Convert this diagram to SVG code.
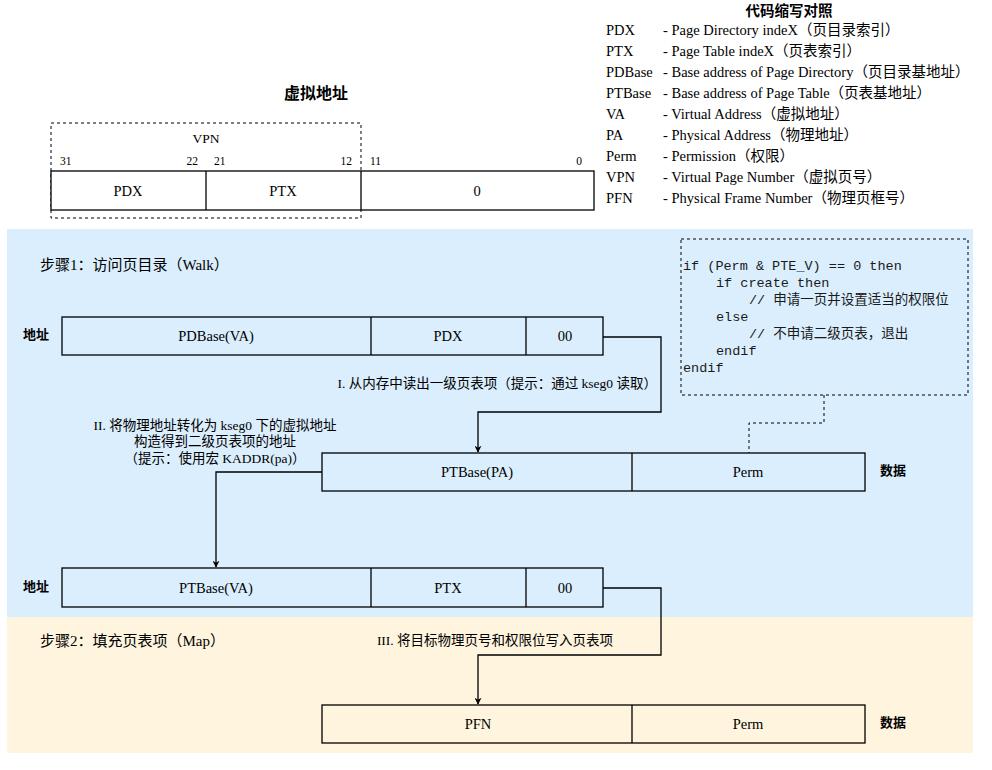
<svg xmlns="http://www.w3.org/2000/svg" width="992" height="770" viewBox="0 0 992 770">
<defs>
<marker id="arr" viewBox="0 0 10 10" refX="9" refY="5" markerWidth="7" markerHeight="7" orient="auto" markerUnits="userSpaceOnUse">
<path d="M0,0 L10,5 L0,10 L3,5 Z" fill="#000"/>
</marker>
<style>
.t{font-family:"Liberation Serif","Noto Sans CJK SC",serif;font-size:14.5px;fill:#000}
.s{font-family:"Liberation Serif","Noto Sans CJK SC",serif;font-size:13.5px;fill:#000}
.l{font-family:"Liberation Serif","Noto Sans CJK SC",serif;font-size:14.5px;fill:#000}
.n{font-family:"Liberation Serif","Noto Sans CJK SC",serif;font-size:11.5px;fill:#000}
.b{font-family:"Noto Sans CJK SC",sans-serif;font-weight:bold;fill:#000}
.st{font-family:"Liberation Serif","Noto Sans CJK SC",serif;font-size:15px;fill:#000}
.c{font-family:"Liberation Mono","Noto Sans CJK SC",monospace;font-size:13.5px;fill:#1a1a1a}
.box{fill:none;stroke:#000;stroke-width:1.3}
.dash{fill:none;stroke:#000;stroke-width:1;stroke-dasharray:3 3}
.ln{fill:none;stroke:#000;stroke-width:1.3}
</style>
</defs>
<rect x="7" y="229" width="966" height="388" fill="#daeefd"/>
<rect x="7" y="617" width="966" height="136" fill="#fff4de"/>

<g id="legend">
<text class="b" x="789" y="16" font-size="14.5" text-anchor="middle">代码缩写对照</text>
<g class="l">
<text x="606" y="35">PDX</text><text x="663" y="35">- Page Directory indeX（页目录索引）</text>
<text x="606" y="56">PTX</text><text x="663" y="56">- Page Table indeX（页表索引）</text>
<text x="606" y="77">PDBase</text><text x="663" y="77">- Base address of Page Directory（页目录基地址）</text>
<text x="606" y="98">PTBase</text><text x="663" y="98">- Base address of Page Table（页表基地址）</text>
<text x="606" y="119">VA</text><text x="663" y="119">- Virtual Address（虚拟地址）</text>
<text x="606" y="140">PA</text><text x="663" y="140">- Physical Address（物理地址）</text>
<text x="606" y="161">Perm</text><text x="663" y="161">- Permission（权限）</text>
<text x="606" y="182">VPN</text><text x="663" y="182">- Virtual Page Number（虚拟页号）</text>
<text x="606" y="203">PFN</text><text x="663" y="203">- Physical Frame Number（物理页框号）</text>
</g>
</g>

<g id="va">
<text class="b" x="316" y="99" font-size="16" text-anchor="middle">虚拟地址</text>
<rect class="dash" x="51" y="123" width="310" height="95"/>
<text class="s" x="206" y="143" text-anchor="middle">VPN</text>
<text class="n" x="60" y="165">31</text>
<text class="n" x="198" y="165" text-anchor="end">22</text>
<text class="n" x="214" y="165">21</text>
<text class="n" x="352" y="165" text-anchor="end">12</text>
<text class="n" x="370" y="165">11</text>
<text class="n" x="582" y="165" text-anchor="end">0</text>
<rect x="51" y="171" width="543" height="39" fill="#fff" stroke="#000" stroke-width="1.3"/>
<line class="ln" x1="206" y1="171" x2="206" y2="210"/>
<line class="ln" x1="361" y1="171" x2="361" y2="210"/>
<text class="t" x="128" y="196" text-anchor="middle">PDX</text>
<text class="t" x="283" y="196" text-anchor="middle">PTX</text>
<text class="t" x="477" y="196" text-anchor="middle">0</text>
</g>

<text class="st" x="40" y="270">步骤1：访问页目录（Walk）</text>
<text class="st" x="40" y="646">步骤2：填充页表项（Map）</text>

<g id="code">
<rect class="dash" x="681" y="239" width="287" height="156"/>
<text class="c" x="683" y="270">if (Perm &amp; PTE_V) == 0 then</text>
<text class="c" x="716" y="287">if create then</text>
<text class="c" x="749" y="304">// 申请一页并设置适当的权限位</text>
<text class="c" x="716" y="321">else</text>
<text class="c" x="749" y="338">// 不申请二级页表，退出</text>
<text class="c" x="716" y="355">endif</text>
<text class="c" x="683" y="372">endif</text>
</g>

<g id="pde-addr">
<text class="b" x="36" y="339" font-size="13" text-anchor="middle">地址</text>
<rect class="box" x="62" y="317" width="541" height="38"/>
<line class="ln" x1="371" y1="317" x2="371" y2="355"/>
<line class="ln" x1="526" y1="317" x2="526" y2="355"/>
<text class="t" x="216" y="341" text-anchor="middle">PDBase(VA)</text>
<text class="t" x="448" y="341" text-anchor="middle">PDX</text>
<text class="t" x="565" y="341" text-anchor="middle">00</text>
</g>

<g id="pde-data">
<rect class="box" x="322" y="453" width="543" height="38"/>
<line class="ln" x1="632" y1="453" x2="632" y2="491"/>
<text class="t" x="477" y="477" text-anchor="middle">PTBase(PA)</text>
<text class="t" x="748" y="477" text-anchor="middle">Perm</text>
<text class="b" x="893" y="475" font-size="13" text-anchor="middle">数据</text>
</g>

<g id="pte-addr">
<text class="b" x="36" y="591" font-size="13" text-anchor="middle">地址</text>
<rect class="box" x="62" y="568" width="541" height="39"/>
<line class="ln" x1="371" y1="568" x2="371" y2="607"/>
<line class="ln" x1="526" y1="568" x2="526" y2="607"/>
<text class="t" x="216" y="593" text-anchor="middle">PTBase(VA)</text>
<text class="t" x="448" y="593" text-anchor="middle">PTX</text>
<text class="t" x="565" y="593" text-anchor="middle">00</text>
</g>

<g id="pte-data">
<rect class="box" x="322" y="705" width="543" height="38"/>
<line class="ln" x1="632" y1="705" x2="632" y2="743"/>
<text class="t" x="478" y="729" text-anchor="middle">PFN</text>
<text class="t" x="748" y="729" text-anchor="middle">Perm</text>
<text class="b" x="893" y="727" font-size="13" text-anchor="middle">数据</text>
</g>

<g id="connectors">
<path class="ln" d="M603,337 H661 V412 H478 V452" marker-end="url(#arr)"/>
<path class="ln" d="M322,472 H216 V567" marker-end="url(#arr)"/>
<path class="ln" d="M603,588 H661 V655 H478 V704" marker-end="url(#arr)"/>
<path class="dash" d="M824,395 V423 H749 V453"/>
<text class="s" x="657" y="388" text-anchor="end">I. 从内存中读出一级页表项（提示：通过 kseg0 读取）</text>
<text class="s" x="215" y="430" text-anchor="middle">II. 将物理地址转化为 kseg0 下的虚拟地址</text>
<text class="s" x="215" y="446" text-anchor="middle">构造得到二级页表项的地址</text>
<text class="s" x="215" y="463" text-anchor="middle">（提示：使用宏 KADDR(pa)）</text>
<text class="s" x="495" y="645" text-anchor="middle">III. 将目标物理页号和权限位写入页表项</text>
</g>
</svg>
